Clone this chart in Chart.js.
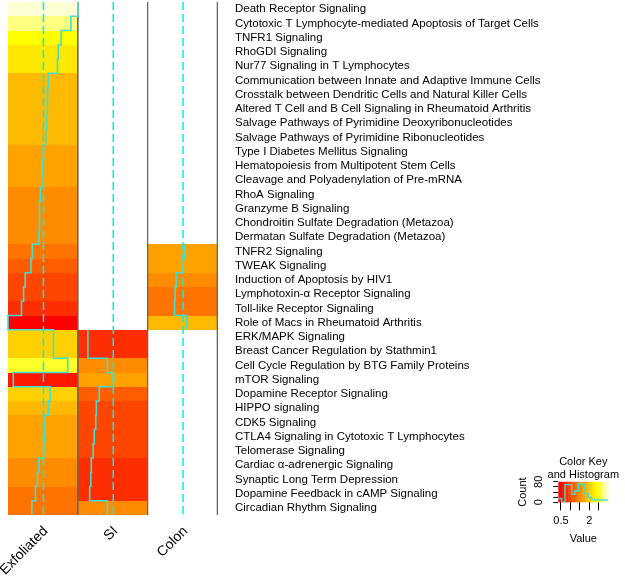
<!DOCTYPE html>
<html>
<head>
<meta charset="utf-8">
<title>Pathway heatmap</title>
<script src="https://cdn.jsdelivr.net/npm/chart.js@4.4.1/dist/chart.umd.min.js"></script>
<style>
  html, body { margin: 0; padding: 0; background: #fff; overflow: hidden; }
  #wrap { position: relative; width: 625px; height: 584px; }
  #heatmap { position: absolute; left: 0; top: 0; }
  #colorKey { position: absolute; left: 505px; top: 445px; }
</style>
</head>
<body>
<div id="wrap">
  <canvas id="heatmap" width="625" height="584"></canvas>
  <canvas id="colorKey" width="120" height="105"></canvas>
</div>
<script>
// Row labels, top to bottom
const pathways = [
  'Death Receptor Signaling',
  'Cytotoxic T Lymphocyte-mediated Apoptosis of Target Cells',
  'TNFR1 Signaling',
  'RhoGDI Signaling',
  'Nur77 Signaling in T Lymphocytes',
  'Communication between Innate and Adaptive Immune Cells',
  'Crosstalk between Dendritic Cells and Natural Killer Cells',
  'Altered T Cell and B Cell Signaling in Rheumatoid Arthritis',
  'Salvage Pathways of Pyrimidine Deoxyribonucleotides',
  'Salvage Pathways of Pyrimidine Ribonucleotides',
  'Type I Diabetes Mellitus Signaling',
  'Hematopoiesis from Multipotent Stem Cells',
  'Cleavage and Polyadenylation of Pre-mRNA',
  'RhoA Signaling',
  'Granzyme B Signaling',
  'Chondroitin Sulfate Degradation (Metazoa)',
  'Dermatan Sulfate Degradation (Metazoa)',
  'TNFR2 Signaling',
  'TWEAK Signaling',
  'Induction of Apoptosis by HIV1',
  'Lymphotoxin-\u03B1 Receptor Signaling',
  'Toll-like Receptor Signaling',
  'Role of Macs in Rheumatoid Arthritis',
  'ERK/MAPK Signaling',
  'Breast Cancer Regulation by Stathmin1',
  'Cell Cycle Regulation by BTG Family Proteins',
  'mTOR Signaling',
  'Dopamine Receptor Signaling',
  'HIPPO signaling',
  'CDK5 Signaling',
  'CTLA4 Signaling in Cytotoxic T Lymphocytes',
  'Telomerase Signaling',
  'Cardiac \u03B1-adrenergic Signaling',
  'Synaptic Long Term Depression',
  'Dopamine Feedback in cAMP Signaling',
  'Circadian Rhythm Signaling'
];

const columns = ['Exfoliated', 'SI', 'Colon'];

// values per column (null = not present)
const exfoliated = [3.00, 2.74, 2.37, 2.26, 2.23, 1.88, 1.86, 1.84, 1.83, 1.79,
  1.70, 1.65, 1.64, 1.58, 1.55, 1.55, 1.53, 1.28, 1.23, 1.01,
  0.95, 0.87, 0.36, 2.08, 2.08, 2.62, 0.56, 1.96, 1.89, 1.76,
  1.73, 1.71, 1.53, 1.47, 1.40, 1.26];

const si = [null, null, null, null, null, null, null, null, null, null,
  null, null, null, null, null, null, null, null, null, null,
  null, null, null, 0.74, 0.74, 1.48, 1.71, 1.17, 1.06, 1.04,
  0.98, 0.94, 0.87, 0.85, 0.81, 1.48];

const colon = [null, null, null, null, null, null, null, null, null, null,
  null, null, null, null, null, null, null, 1.76, 1.71, 1.44,
  1.40, 1.38, 1.84, null, null, null, null, null, null, null,
  null, null, null, null, null, null];

// colour key histogram (counts per colour bin)
const histCounts = [15, 0, 69, 69, 31, 44, 74, 69, 34, 19, 11, 9, 9, 9, 9];
const keyTicks = [0.5, 1, 1.5, 2, 2.5];
const countTicks = [0, 20, 40, 60, 80];
const vline = 1.70;
const nColors = 15;

const columnValues = [exfoliated, si, colon];

Chart.defaults.font.family = '"Liberation Sans", Arial, sans-serif';
Chart.defaults.color = '#000';

// R's heat.colors(n)
function heatColors(n) {
  const j = Math.floor(n / 4);
  const i = n - j;
  const hex = (r, g, b) => '#' + [r, g, b].map(c => Math.round(c * 255).toString(16).padStart(2, '0')).join('');
  const out = [];
  for (let k = 0; k < i; k++) {
    const h = (k / (i - 1)) / 6;
    out.push(hex(1, h * 6, 0));
  }
  for (let k = 0; k < j; k++) {
    const sFrom = 1 - 1 / (2 * j), sTo = 1 / (2 * j);
    const s = j > 1 ? sFrom + k * (sTo - sFrom) / (j - 1) : sFrom;
    out.push(hex(1, 1, 1 - s));
  }
  return out;
}

const palette = heatColors(nColors);
const allValues = columnValues.flat().filter(v => v !== null);
const vmin = Math.min(...allValues);
const vmax = Math.max(...allValues);
const binWidth = (vmax - vmin) / nColors;
const breaks = palette.map((_, k) => vmin + k * binWidth).concat([vmax]);

function colorFor(v) {
  const k = Math.min(nColors - 1, Math.max(0, Math.ceil((v - vmin) / binWidth - 1e-9) - 1));
  return palette[k];
}

const scaled = v => (v - vmin) / (vmax - vmin);

// cells of the heatmap, drawn through the chart scales
const heatCells = {
  id: 'heatCells',
  beforeDatasetsDraw(chart) {
    const { ctx, scales: { x, y } } = chart;
    ctx.save();
    columnValues.forEach((vals, c) => {
      vals.forEach((v, r) => {
        if (v === null) return;
        const x0 = Math.round(x.getPixelForValue(c));
        const x1 = Math.round(x.getPixelForValue(c + 1));
        const y0 = Math.round(y.getPixelForValue(r));
        const y1 = Math.round(y.getPixelForValue(r + 1));
        ctx.fillStyle = colorFor(v);
        ctx.fillRect(x0, y0, x1 - x0, y1 - y0);
      });
    });
    ctx.restore();
  }
};

const TRACE = '#3fe0d4';
const DASH = '#00f0f0';

const datasets = [];
columnValues.forEach((vals, c) => {
  // trace: one vertical step per row
  const pts = [];
  vals.forEach((v, r) => {
    if (v === null) {
      pts.push({ x: null, y: null });
      return;
    }
    const xv = c + scaled(v);
    pts.push({ x: xv, y: r }, { x: xv, y: r + 1 });
  });
  datasets.push({
    data: pts, showLine: true, borderColor: TRACE, borderWidth: 1.6,
    pointRadius: 0, order: 0, clip: false
  });
  datasets.push({
    data: [{ x: c + scaled(vline), y: 0 }, { x: c + scaled(vline), y: pathways.length }],
    showLine: true, borderColor: DASH, borderWidth: 1.5, borderDash: [8, 4],
    pointRadius: 0, order: 1
  });
  datasets.push({
    data: [{ x: c + 1, y: 0 }, { x: c + 1, y: pathways.length }],
    showLine: true, borderColor: '#666', borderWidth: 1,
    pointRadius: 0, order: 2, clip: false
  });
});

new Chart(document.getElementById('heatmap'), {
  type: 'scatter',
  data: { datasets: datasets },
  plugins: [heatCells],
  options: {
    responsive: false,
    animation: false,
    layout: { padding: { left: 8, top: 2, right: 0, bottom: 0 } },
    plugins: { legend: { display: false }, tooltip: { enabled: false } },
    scales: {
      x: {
        type: 'linear', min: 0, max: columns.length, position: 'bottom',
        grid: { display: false, drawTicks: false },
        border: { display: false },
        afterBuildTicks: axis => { axis.ticks = columns.map((_, i) => ({ value: i + 0.5 })); },
        afterFit: axis => {
          axis.height = 69;
          axis.paddingLeft = 0;
          axis.paddingRight = 0;
        },
        ticks: {
          autoSkip: false, minRotation: 45, maxRotation: 45, padding: 8, labelOffset: 3,
          font: { size: 14 }, color: '#000',
          callback: (v, i) => columns[i]
        }
      },
      y: {
        type: 'linear', min: 0, max: pathways.length, reverse: true, position: 'right',
        grid: { display: false, drawTicks: false },
        border: { display: false },
        afterBuildTicks: axis => { axis.ticks = pathways.map((_, i) => ({ value: i + 0.5 })); },
        afterFit: axis => {
          axis.width = 407.6;
          axis.paddingTop = 0;
          axis.paddingBottom = 0;
        },
        ticks: {
          autoSkip: false, padding: 17.6,
          font: { size: 11.5 }, color: '#000',
          callback: (v, i) => pathways[i]
        }
      }
    }
  }
});

// ---- colour key with histogram ----
const keyGradient = {
  id: 'keyGradient',
  beforeDatasetsDraw(chart) {
    const { ctx, chartArea, scales: { x } } = chart;
    ctx.save();
    palette.forEach((col, k) => {
      const x0 = x.getPixelForValue(breaks[k]);
      const x1 = x.getPixelForValue(breaks[k + 1]);
      ctx.fillStyle = col;
      ctx.fillRect(x0, chartArea.top, x1 - x0 + 0.5, chartArea.bottom - chartArea.top);
    });
    ctx.restore();
  }
};

const keyTitle = {
  id: 'keyTitle',
  afterDraw(chart) {
    const { ctx, chartArea } = chart;
    const cx = (chartArea.left + chartArea.right) / 2;
    ctx.save();
    ctx.font = '11px "Liberation Sans", Arial, sans-serif';
    ctx.fillStyle = '#000';
    ctx.textAlign = 'center';
    ctx.textBaseline = 'middle';
    ctx.fillText('Color Key', cx, chartArea.top - 19.8);
    ctx.fillText('and Histogram', cx, chartArea.top - 6.8);
    ctx.restore();
  }
};

const histPoints = breaks.map((b, k) => ({ x: b, y: histCounts[Math.min(k, histCounts.length - 1)] }));

new Chart(document.getElementById('colorKey'), {
  type: 'scatter',
  data: {
    datasets: [
      { data: histPoints, showLine: true, stepped: true, borderColor: TRACE, borderWidth: 1.4, pointRadius: 0 },
      { data: [{ x: vline, y: 0 }, { x: vline, y: 80 }], showLine: true, borderColor: DASH,
        borderWidth: 1, borderDash: [4, 3], pointRadius: 0 }
    ]
  },
  plugins: [keyGradient, keyTitle],
  options: {
    responsive: false,
    animation: false,
    layout: { padding: { left: 4, top: 36.8, right: 16.7, bottom: 0 } },
    plugins: { legend: { display: false }, tooltip: { enabled: false } },
    scales: {
      x: {
        type: 'linear', min: vmin, max: vmax,
        grid: { display: true, drawOnChartArea: false, drawTicks: true, tickLength: 8, color: '#000' },
        border: { display: false },
        afterBuildTicks: axis => { axis.ticks = keyTicks.map(v => ({ value: v })); },
        afterFit: axis => {
          axis.height = 47.7;
          axis.paddingLeft = 0;
          axis.paddingRight = 0;
        },
        ticks: {
          autoSkip: false, maxRotation: 0, padding: 4, font: { size: 11 }, color: '#000',
          callback: v => (v === 0.5 || v === 2) ? String(v) : ''
        },
        title: { display: true, text: 'Value', font: { size: 11 }, color: '#000', padding: { top: 0, bottom: 4.4 } }
      },
      y: {
        type: 'linear', min: 0, max: 80,
        grid: { display: true, drawOnChartArea: false, drawTicks: true, tickLength: 5, color: '#000' },
        border: { display: false },
        afterBuildTicks: axis => { axis.ticks = countTicks.map(v => ({ value: v })); },
        afterFit: axis => {
          axis.width = 49.3;
          axis.paddingTop = 0;
          axis.paddingBottom = 0;
        },
        ticks: {
          // Chart.js negates labelRotation when drawing, so +90 reads bottom to top
          autoSkip: false, minRotation: 90, maxRotation: 90, crossAlign: 'center', padding: 8,
          font: { size: 11 }, color: '#000',
          callback: v => (v === 0 || v === 80) ? String(v) : ''
        },
        title: { display: true, text: 'Count', font: { size: 11 }, color: '#000', padding: { top: 7, bottom: 0 } }
      }
    }
  }
});
</script>
</body>
</html>
